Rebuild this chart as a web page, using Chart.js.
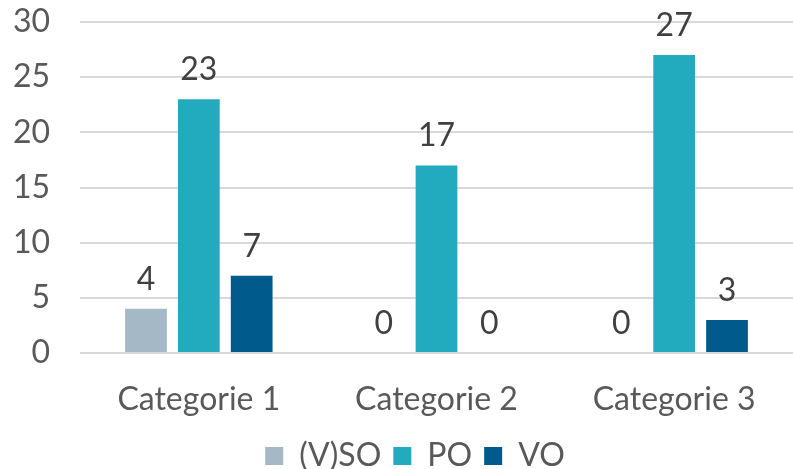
<!DOCTYPE html>
<html>
<head>
<meta charset="utf-8">
<script src="https://cdn.jsdelivr.net/npm/chart.js@4"></script>
<style>
  html, body { margin: 0; padding: 0; background: #fff; }
  #wrap { width: 793px; height: 469px; }
</style>
</head>
<body>
<div id="wrap"><canvas id="chart" width="793" height="469"></canvas></div>
<script>
// Données du graphique
const categories = ['Categorie 1', 'Categorie 2', 'Categorie 3'];
const seriesNames = ['(V)SO', 'PO', 'VO'];
const vsoValues = [4, 0, 0];
const poValues = [23, 17, 27];
const voValues = [7, 0, 3];
const yTicks = [0, 5, 10, 15, 20, 25, 30];

const colors = ['#A5B8C5', '#22AABF', '#005A8B'];

// Plugin simple pour afficher les valeurs au-dessus des barres
const valueLabels = {
    id: 'valueLabels',
    afterDatasetsDraw(chart) {
        const ctx = chart.ctx;
        ctx.save();
        ctx.font = '32px Lato';
        ctx.fillStyle = '#404040';
        ctx.textAlign = 'center';
        ctx.textBaseline = 'alphabetic';
        chart.data.datasets.forEach((ds, i) => {
            const meta = chart.getDatasetMeta(i);
            meta.data.forEach((bar, j) => {
                ctx.fillText(String(ds.data[j]), bar.x, bar.y - 19);
            });
        });
        ctx.restore();
    }
};

// Décale un peu la légende vers la droite
const legendShift = {
    id: 'legendShift',
    afterLayout(chart) {
        if (chart.legend) {
            chart.legend.left += 24;
        }
    }
};

const datasets = [vsoValues, poValues, voValues].map((vals, i) => ({
    label: seriesNames[i],
    data: vals,
    backgroundColor: colors[i],
    borderWidth: 0,
    categoryPercentage: 0.667,
    barPercentage: 0.79
}));

new Chart(document.getElementById('chart').getContext('2d'), {
    type: 'bar',
    data: { labels: categories, datasets: datasets },
    options: {
        responsive: false,
        animation: false,
        layout: { padding: { left: 13, right: 0, top: 0, bottom: -13 } },
        plugins: {
            legend: {
                position: 'bottom',
                labels: {
                    boxWidth: 18,
                    boxHeight: 18,
                    padding: 12,
                    color: '#595959',
                    font: { family: 'Lato', size: 32 }
                }
            },
            tooltip: { enabled: false }
        },
        scales: {
            x: {
                grid: { display: false },
                border: { display: false },
                ticks: {
                    color: '#595959',
                    padding: 19,
                    font: { family: 'Lato', size: 32 }
                },
                afterFit: (scale) => {
                    scale.height = 75;
                    scale.paddingLeft = 0;
                    scale.paddingRight = 0;
                }
            },
            y: {
                min: 0,
                max: 30,
                afterBuildTicks: (axis) => { axis.ticks = yTicks.map(v => ({ value: v })); },
                grid: { color: '#D9D9D9', lineWidth: 2, drawTicks: false },
                border: { display: false },
                ticks: {
                    color: '#595959',
                    padding: 30,
                    font: { family: 'Lato', size: 32 }
                },
                afterFit: (scale) => {
                    scale.width = 67;
                    scale.paddingTop = 22;
                    scale.paddingBottom = 0;
                }
            }
        }
    },
    plugins: [valueLabels, legendShift]
});
</script>
</body>
</html>
